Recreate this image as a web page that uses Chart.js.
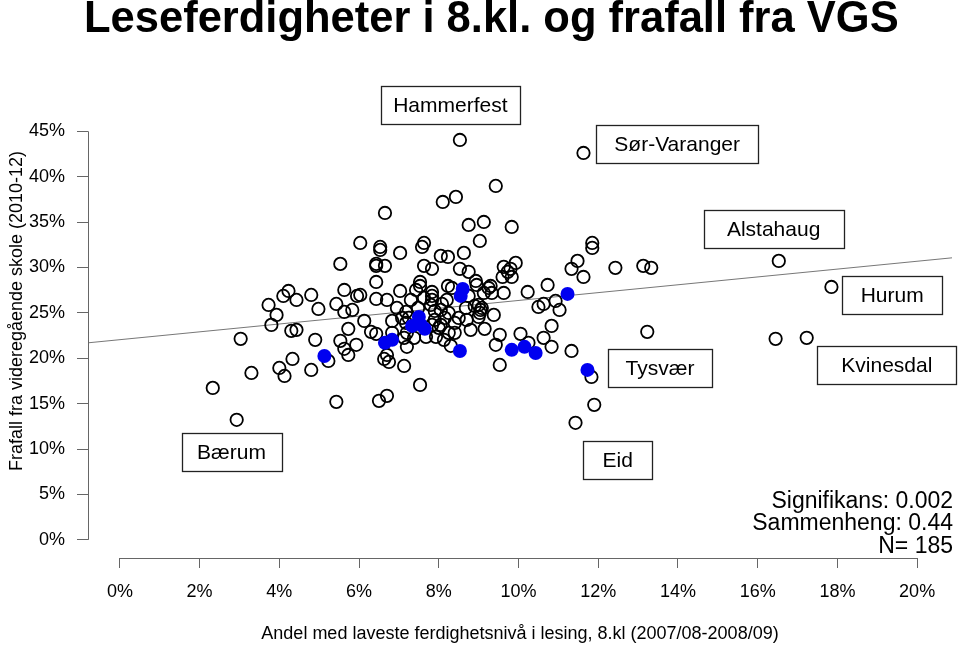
<!DOCTYPE html>
<html><head><meta charset="utf-8">
<script src="https://cdn.jsdelivr.net/npm/chart.js@4.4.1/dist/chart.umd.min.js"></script>
<style>html,body{margin:0;padding:0;background:#fff}canvas{display:block}</style>
</head><body>
<canvas id="c" width="960" height="651"></canvas>
<script>
// ---- data (percent values) ----
const otherX = [2.33,2.93,3.03,3.30,3.73,3.93,3.80,4.23,4.10,4.43,4.80,4.98,4.30,4.43,4.90,4.33,4.00,4.13,4.80,5.43,
5.63,5.95,6.03,5.83,5.63,6.13,5.73,5.53,5.93,5.63,5.73,5.23,5.43,6.50,6.70,6.03,6.53,6.53,5.53,6.43,
6.43,6.65,6.43,6.43,6.70,6.83,6.30,6.43,6.63,6.70,6.75,6.65,8.53,11.63,9.43,8.10,8.43,8.75,9.13,9.83,
9.03,7.58,7.63,7.03,8.63,8.05,8.23,11.85,11.85,7.63,7.83,8.53,8.75,8.93,7.53,7.03,7.43,7.53,7.83,7.83,
8.23,8.33,8.95,9.30,9.13,9.33,8.08,8.20,7.80,7.83,7.18,7.48,7.90,8.05,8.68,8.90,9.08,9.03,9.00,9.38,
7.08,7.25,7.18,7.90,8.05,8.25,8.15,8.50,8.70,9.15,7.83,8.00,7.93,7.68,7.20,7.13,7.20,8.25,8.40,8.30,
7.13,7.53,9.93,9.63,9.73,9.80,9.60,9.83,11.48,11.33,11.63,9.25,9.63,10.73,10.23,10.93,10.63,10.50,11.03,9.00,
9.05,10.83,9.53,9.43,10.05,10.25,10.63,10.83,11.33,9.53,11.83,11.90,11.43,12.43,13.13,13.33,16.53,17.85,13.23,16.45,
17.23,7.30,7.63,8.40,8.75,6.95,7.38,8.13,8.80,6.83];
const otherY = [16.74,13.22,22.14,18.39,25.88,24.78,23.68,27.42,26.87,26.43,26.98,25.44,23.02,23.13,22.03,19.93,18.94,18.06,18.72,25.99,
27.53,26.87,26.98,25.33,25.11,24.12,23.24,21.92,21.48,21.04,20.37,19.71,15.20,15.31,15.86,32.71,32.27,31.94,30.40,30.40,
30.18,30.18,28.41,26.54,26.43,24.12,22.91,22.69,19.93,20.37,19.60,36.01,44.05,42.62,38.99,37.22,37.78,34.69,35.02,34.47,
32.93,32.27,32.71,31.61,31.61,31.28,31.17,32.71,32.16,30.18,29.85,29.85,29.52,28.52,28.41,27.42,27.53,27.97,27.31,26.87,
27.97,27.75,28.08,27.97,27.20,27.20,25.99,26.43,25.88,26.43,25.11,25.55,25.22,25.33,25.55,25.77,25.55,25.00,24.56,24.78,
24.45,24.45,23.90,24.23,23.68,25.00,24.45,24.45,24.23,23.24,23.68,23.35,22.36,22.36,22.80,22.25,21.26,22.80,22.80,21.37,
19.16,17.07,30.51,30.07,29.52,29.85,28.96,28.96,30.73,29.85,28.96,27.75,27.20,28.08,27.31,26.32,25.99,25.66,25.33,25.88,
25.33,23.57,22.58,21.48,22.69,21.70,22.25,21.26,20.81,19.27,17.95,14.87,12.89,29.96,30.18,29.96,30.73,27.86,22.91,22.14,
22.25,26.43,26.65,23.90,26.87,25.55,22.25,22.03,23.13,22.80];
const highlightX = [5.13,6.65,6.83,7.50,7.33,7.55,7.65,8.60,8.55,8.53,9.83,10.15,10.43,11.23,11.73];
const highlightY = [20.26,21.70,22.03,24.56,23.57,23.68,23.24,27.64,26.87,20.81,20.93,21.26,20.59,27.09,18.72];
const xTicks = [0,2,4,6,8,10,12,14,16,18,20];
const yTicks = [0,5,10,15,20,25,30,35,40,45];
const fitIntercept = 22.05;
const fitSlope = 0.432;
const labelNames = ['Hammerfest','Sør-Varanger','Alstahaug','Hurum','Kvinesdal','Tysvær','Eid','Bærum'];
const labelX = [8.29,13.98,16.40,19.375,19.24,13.55,12.49,2.80];
const labelY = [47.85,43.61,34.25,26.98,19.22,18.94,8.76,9.69];
const statsLines = ['Signifikans: 0.002','Sammenheng: 0.44','N= 185'];
const chartTitle = 'Leseferdigheter i 8.kl. og frafall fra VGS';
const xTitle = 'Andel med laveste ferdighetsnivå i lesing, 8.kl (2007/08-2008/09)';
const yTitle = 'Frafall fra videregående skole (2010-12)';

// ---- rendering ----
const FONT = "'Liberation Sans', Arial, sans-serif";
const X_MIN = -0.8, X_MAX = 20.875, Y_MIN = -2.0, Y_MAX = 46.8;
const boxW = [139,162,140,100,139,104,69,100];

const decor = {
  id: 'decor',
  beforeDraw(chart) {
    const ctx = chart.ctx;
    ctx.save(); ctx.fillStyle = '#fff'; ctx.fillRect(0, 0, chart.width, chart.height); ctx.restore();
  },
  afterDraw(chart) {
    const ctx = chart.ctx, xs = chart.scales.x, ys = chart.scales.y, ca = chart.chartArea;
    ctx.save();
    ctx.strokeStyle = '#666'; ctx.lineWidth = 1;
    ctx.beginPath();
    const ax = Math.round(ca.left) + 0.5;
    ctx.moveTo(ax, ys.getPixelForValue(yTicks[0])); ctx.lineTo(ax, ys.getPixelForValue(yTicks[yTicks.length-1]));
    const ay = Math.round(ca.bottom) + 0.5;
    ctx.moveTo(xs.getPixelForValue(xTicks[0]), ay); ctx.lineTo(xs.getPixelForValue(xTicks[xTicks.length-1]), ay);
    ctx.stroke();

    ctx.fillStyle = '#000';
    ctx.textBaseline = 'alphabetic';
    ctx.font = 'bold 43.5px ' + FONT; ctx.textAlign = 'left';
    ctx.fillText(chartTitle, 84, 32);

    ctx.font = '18px ' + FONT; ctx.textAlign = 'center';
    ctx.fillText(xTitle, (ca.left + ca.right) / 2, 639);
    ctx.save(); ctx.translate(22, 311); ctx.rotate(-Math.PI / 2); ctx.fillText(yTitle, 0, 0); ctx.restore();

    // boxed labels
    ctx.font = '21px ' + FONT; ctx.textAlign = 'center'; ctx.textBaseline = 'middle';
    ctx.strokeStyle = '#222'; ctx.lineWidth = 1.3;
    labelNames.forEach((name, i) => {
      const cx = xs.getPixelForValue(labelX[i]), cy = ys.getPixelForValue(labelY[i]);
      const w = boxW[i], h = 38;
      ctx.strokeRect(Math.round(cx - w / 2) + 0.5, Math.round(cy - h / 2) + 0.5, w, h);
      ctx.fillText(name, cx, cy + 1);
    });

    // stats
    ctx.font = '23px ' + FONT; ctx.textAlign = 'right'; ctx.textBaseline = 'alphabetic';
    [508, 530, 553].forEach((b, i) => ctx.fillText(statsLines[i], 953, b));
    ctx.restore();
  }
};

const pts = (xa, ya) => xa.map((v, i) => ({x: v, y: ya[i]}));

new Chart(document.getElementById('c'), {
  type: 'scatter',
  data: {
    datasets: [
      { label: 'Utvalgte', data: pts(highlightX, highlightY), pointStyle: 'circle', pointRadius: 7,
        pointBackgroundColor: '#0000f0', pointBorderColor: '#0000f0', pointBorderWidth: 0 },
      { label: 'Kommuner', data: pts(otherX, otherY), pointStyle: 'circle', pointRadius: 6.2,
        pointBackgroundColor: 'rgba(0,0,0,0)', pointBorderColor: '#000', pointBorderWidth: 1.8 },
      { label: 'Regresjon', type: 'line',
        data: [{x: X_MIN, y: fitIntercept + fitSlope * X_MIN}, {x: X_MAX, y: fitIntercept + fitSlope * X_MAX}],
        borderColor: '#777', borderWidth: 1, pointRadius: 0, fill: false }
    ]
  },
  options: {
    responsive: false, animation: false, devicePixelRatio: 1,
    layout: { padding: { top: 115, left: 0, right: 5, bottom: 0 } },
    plugins: { legend: { display: false }, tooltip: { enabled: false }, title: { display: false } },
    scales: {
      x: {
        type: 'linear', min: X_MIN, max: X_MAX,
        afterFit: s => { s.height = 93; },
        afterBuildTicks: s => { s.ticks = xTicks.map(v => ({value: v})); },
        grid: { drawOnChartArea: false, drawTicks: true, tickLength: 10, color: '#666' },
        border: { display: false },
        ticks: { padding: 13, maxRotation: 0, autoSkip: false, color: '#000', font: { family: FONT, size: 18 },
                 callback: v => v + '%' }
      },
      y: {
        type: 'linear', min: Y_MIN, max: Y_MAX,
        afterFit: s => { s.width = 88; },
        afterBuildTicks: s => { s.ticks = yTicks.map(v => ({value: v})); },
        grid: { drawOnChartArea: false, drawTicks: true, tickLength: 11, color: '#666' },
        border: { display: false },
        ticks: { padding: 12, autoSkip: false, color: '#000', font: { family: FONT, size: 18 },
                 callback: v => v + '%' }
      }
    }
  },
  plugins: [decor]
});
</script>
</body></html>
